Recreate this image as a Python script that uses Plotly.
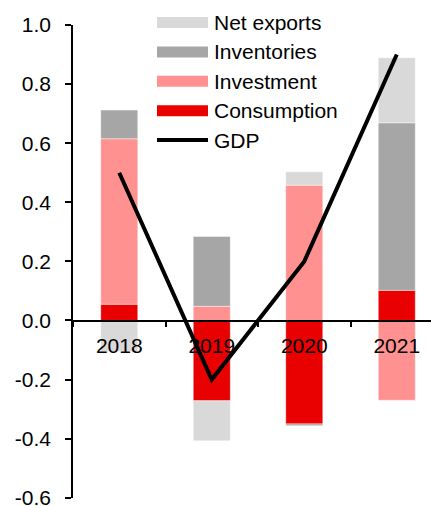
import plotly.graph_objects as go

years = ["2018", "2019", "2020", "2021"]
consumption = [0.055, -0.272, -0.350, 0.102]
investment = [0.560, 0.048, 0.458, -0.270]
inventories = [0.097, 0.236, -0.006, 0.567]
net_exports = [-0.105, -0.135, 0.045, 0.220]
gdp = [0.5, -0.2, 0.2, 0.9]

series = [
    ("Consumption", consumption, "#e90000"),
    ("Investment", investment, "#ff9191"),
    ("Inventories", inventories, "#a6a6a6"),
    ("Net exports", net_exports, "#d9d9d9"),
]

y_ticks = [1.0, 0.8, 0.6, 0.4, 0.2, 0.0, -0.2, -0.4, -0.6]
y_ticktext = ["%.1f" % v for v in y_ticks]

FONT = "Liberation Sans, Arial, sans-serif"
FS = 21

fig = go.Figure()
for name, vals, col in series:
    fig.add_trace(go.Bar(x=years, y=vals, name=name, marker_color=col,
                         marker_line_width=0.6, marker_line_color="rgba(255,255,255,0.7)",
                         showlegend=False))
fig.add_trace(go.Scatter(x=years, y=gdp, mode="lines", name="GDP",
                         line=dict(color="black", width=4), showlegend=False))

W, H = 431, 506
L, R, T, B = 73, 0, 25, 8
pw, ph = W - L - R, H - T - B

def px(x):
    return (x - L) / pw

def py(y):
    return (H - B - y) / ph

legend_items = [("Net exports", "#d9d9d9", "bar"), ("Inventories", "#a6a6a6", "bar"),
                ("Investment", "#ff9191", "bar"), ("Consumption", "#e90000", "bar"),
                ("GDP", "black", "line")]
shapes = []
annotations = []
for i, (name, col, kind) in enumerate(legend_items):
    yc = 22.5 + 29.4 * i
    if kind == "bar":
        shapes.append(dict(type="rect", xref="paper", yref="paper",
                           x0=px(157), x1=px(208), y0=py(yc + 5.5), y1=py(yc - 5.5),
                           fillcolor=col, line_width=0))
    else:
        shapes.append(dict(type="line", xref="paper", yref="paper",
                           x0=px(157), x1=px(208), y0=py(yc), y1=py(yc),
                           line=dict(color=col, width=4)))
    annotations.append(dict(xref="paper", yref="paper", x=px(212), y=py(yc),
                            text=name, showarrow=False, xanchor="left", yanchor="middle",
                            font=dict(family=FONT, size=FS, color="black")))

fig.update_layout(
    width=W, height=H,
    margin=dict(l=L, r=R, t=T, b=B, pad=0, autoexpand=False),
    paper_bgcolor="white", plot_bgcolor="white",
    barmode="relative", bargap=0.6,
    font=dict(family=FONT, size=FS, color="black"),
    shapes=shapes, annotations=annotations,
    xaxis=dict(type="category", range=[-0.5, 3.37], anchor="free", position=0.375,
               showline=True, linecolor="black", linewidth=1.5,
               ticks="outside", tickson="boundaries", ticklen=6, tickwidth=1.5,
               tickcolor="black", showgrid=False, zeroline=False,
               ticklabelstandoff=6, automargin=False,
               tickfont=dict(family=FONT, size=FS)),
    yaxis=dict(range=[-0.6008, 1.0], tickvals=y_ticks, ticktext=y_ticktext,
               showline=True, linecolor="black", linewidth=1.5,
               ticks="outside", ticklen=6, tickwidth=1.5, tickcolor="black",
               showgrid=False, zeroline=False, ticklabelstandoff=10,
               ticklabeloverflow="allow", automargin=False,
               tickfont=dict(family=FONT, size=FS)),
)

fig.write_html("out.html")
